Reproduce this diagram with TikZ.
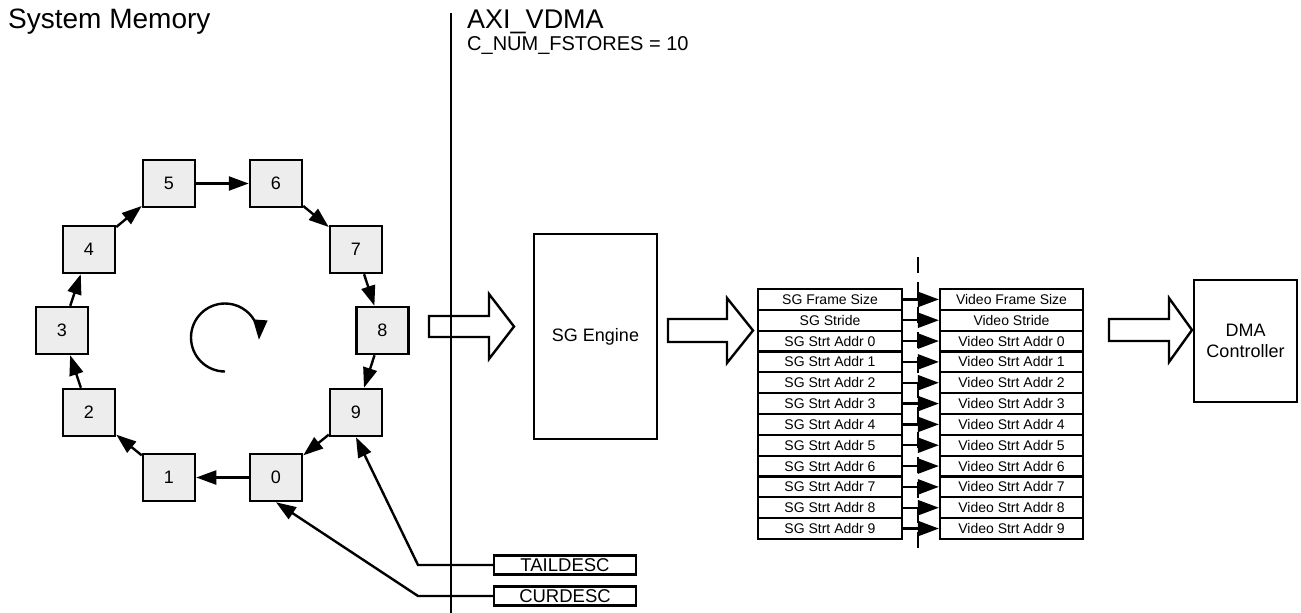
\documentclass[tikz,border=0pt]{standalone}
\usepackage{fontspec}
\setmainfont{Liberation Sans}
\usetikzlibrary{arrows.meta}
\definecolor{boxgray}{RGB}{236,237,236}
\begin{document}
\begin{tikzpicture}[x=1pt,y=-1pt,
  membox/.style={draw, line width=2.5pt, fill=boxgray, minimum width=52pt, minimum height=47pt, inner sep=0pt, font=\fontsize{18}{20}\selectfont},
  ringarrow/.style={-{Triangle[length=20pt,width=14pt]}, line width=2.4pt},
  tabarrow/.style={-{Triangle[length=21pt,width=15pt]}, line width=2.4pt},
  rowbox/.style={draw, line width=2.2pt, minimum width=144pt, minimum height=20.83pt, inner sep=0pt, font=\fontsize{14}{15}\selectfont},
  descbox/.style={draw, line width=2.4pt, minimum width=142pt, minimum height=19pt, inner sep=0pt, font=\fontsize{18.5}{19}\selectfont},
  bigbox/.style={draw, line width=2.4pt, inner sep=0pt, align=center, font=\fontsize{18}{21}\selectfont},
  blockarrow/.style={draw, line width=2.4pt, line join=miter},
  title/.style={anchor=base west, inner sep=0pt}
]
\useasboundingbox (0,0) rectangle (1301,613);

% titles
\node[title, font=\fontsize{28}{30}\selectfont] (sysmem) at (8,28) {System Memory};
\node[title, font=\fontsize{27}{30}\selectfont] (axi) at (467,28) {AXI\_VDMA};
\node[title, font=\fontsize{20}{22}\selectfont] (cnum) at (467,50) {C\_NUM\_FSTORES = 10};

% divider
\draw[line width=1.6pt] (451,13) -- (451,613);

% ring of descriptors
\node[membox] (n5) at (169,183.5) {5};
\node[membox] (n6) at (276,183.5) {6};
\node[membox] (n7) at (356,249.5) {7};
\node[membox] (n8) at (382.5,330.5) {8};
\node[membox] (n9) at (356,412.5) {9};
\node[membox] (n0) at (276,477.5) {0};
\node[membox] (n1) at (169,477.5) {1};
\node[membox] (n2) at (89,412.5) {2};
\node[membox] (n3) at (62,330.5) {3};
\node[membox] (n4) at (89,249.5) {4};
\draw[ringarrow] (n5) -- (n6);
\draw[ringarrow] (n6) -- (n7);
\draw[ringarrow] (n7) -- (n8);
\draw[ringarrow] (n8) -- (n9);
\draw[ringarrow] (n9) -- (n0);
\draw[ringarrow] (n0) -- (n1);
\draw[ringarrow] (n1) -- (n2);
\draw[ringarrow] (n2) -- (n3);
\draw[ringarrow] (n3) -- (n4);
\draw[ringarrow] (n4) -- (n5);

% rotation arrow
\draw[ringarrow] (225,371.5) arc[start angle=90, end angle=364, radius=34];

% descriptor pointers
\node[descbox] (tail) at (565,565) {TAILDESC};
\node[descbox] (cur) at (565,596) {CURDESC};
\coordinate (tb) at (418,565);
\coordinate (cb) at (418,596);
\draw[ringarrow] (tail.west) -- (tb) -- (n9.south);
\draw[ringarrow] (cur.west) -- (cb) -- (n0.south);

% block arrows
\draw[blockarrow] (429,316) -- (489,316) -- (489,294) -- (514,326.5) -- (489,359) -- (489,337) -- (429,337) -- cycle;
\draw[blockarrow] (668,319) -- (727,319) -- (727,298) -- (753,330.5) -- (727,363) -- (727,342) -- (668,342) -- cycle;
\draw[blockarrow] (1109,319) -- (1169,319) -- (1169,298) -- (1192,330) -- (1169,362) -- (1169,341) -- (1109,341) -- cycle;

% SG engine and DMA controller
\node[bigbox, minimum width=123pt, minimum height=205pt] (sge) at (595.5,336.5) {SG Engine};
\node[bigbox, minimum width=103pt, minimum height=122pt] (dma) at (1245.5,341) {DMA\\Controller};

% register tables
\draw[line width=1.6pt, dash pattern=on 16pt off 9pt] (918,257) -- (918,551);
\foreach \i/\a/\b in {0/SG Frame Size/Video Frame Size,
                      1/SG Stride/Video Stride,
                      2/SG Strt Addr 0/Video Strt Addr 0,
                      3/SG Strt Addr 1/Video Strt Addr 1,
                      4/SG Strt Addr 2/Video Strt Addr 2,
                      5/SG Strt Addr 3/Video Strt Addr 3,
                      6/SG Strt Addr 4/Video Strt Addr 4,
                      7/SG Strt Addr 5/Video Strt Addr 5,
                      8/SG Strt Addr 6/Video Strt Addr 6,
                      9/SG Strt Addr 7/Video Strt Addr 7,
                      10/SG Strt Addr 8/Video Strt Addr 8,
                      11/SG Strt Addr 9/Video Strt Addr 9} {
  \node[rowbox] (sg\i) at (830,{289+20.83*(\i+0.5)}) {\a};
  \node[rowbox, minimum width=143pt] (vd\i) at (1011.5,{289+20.83*(\i+0.5)}) {\b};
  \draw[tabarrow] (sg\i) -- (vd\i);
}
\end{tikzpicture}
\end{document}
